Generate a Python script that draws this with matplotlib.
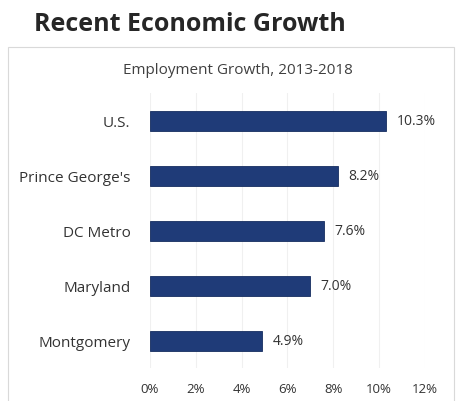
import matplotlib
matplotlib.use("Agg")
import matplotlib.pyplot as plt
from matplotlib.patches import Rectangle

# data
areas = ["U.S.", "Prince George's", "DC Metro", "Maryland", "Montgomery"]
growth = [10.3, 8.2, 7.6, 7.0, 4.9]
xticks = [0, 2, 4, 6, 8, 10, 12]

plt.rcParams["font.family"] = ["Open Sans", "DejaVu Sans"]

fig = plt.figure(figsize=(4.57, 4.02), dpi=100)
ax = fig.add_axes([0.328, 0.081, 0.602, 0.684])

ypos = list(range(len(areas)))
ax.barh(ypos, growth, height=0.36, color="#1f3b78", edgecolor="#162d60", linewidth=0.6, zorder=3)
for y, v in zip(ypos, growth):
    ax.text(v + 0.45, y, f"{v:.1f}%", va="center", ha="left", fontsize=10, color="#333333")

ax.set_yticks(ypos)
ax.set_yticklabels(areas, fontsize=11, color="#333333")
ax.set_ylim(len(areas) - 0.5, -0.5)
ax.set_xlim(0, 12)
ax.set_xticks(xticks)
ax.set_xticklabels([f"{t}%" for t in xticks], fontsize=9.5, color="#333333")
ax.tick_params(length=0, pad=14)
ax.tick_params(axis="x", pad=10)
ax.grid(axis="x", color="#f0f0f0", linewidth=0.8, zorder=0)
for s in ax.spines.values():
    s.set_visible(False)

# chart frame
fig.patches.append(Rectangle((0.018, -0.01), 0.975, 0.89, transform=fig.transFigure,
                             fill=False, edgecolor="#d9d9d9", linewidth=0.8))

fig.text(0.075, 0.94, "Recent Economic Growth", fontsize=18, fontweight="bold",
         color="#262626", va="center", ha="left")
fig.text(0.52, 0.825, "Employment Growth, 2013-2018", fontsize=11, color="#404040",
         va="center", ha="center")

fig.savefig("out.png", dpi=100, facecolor="white")
